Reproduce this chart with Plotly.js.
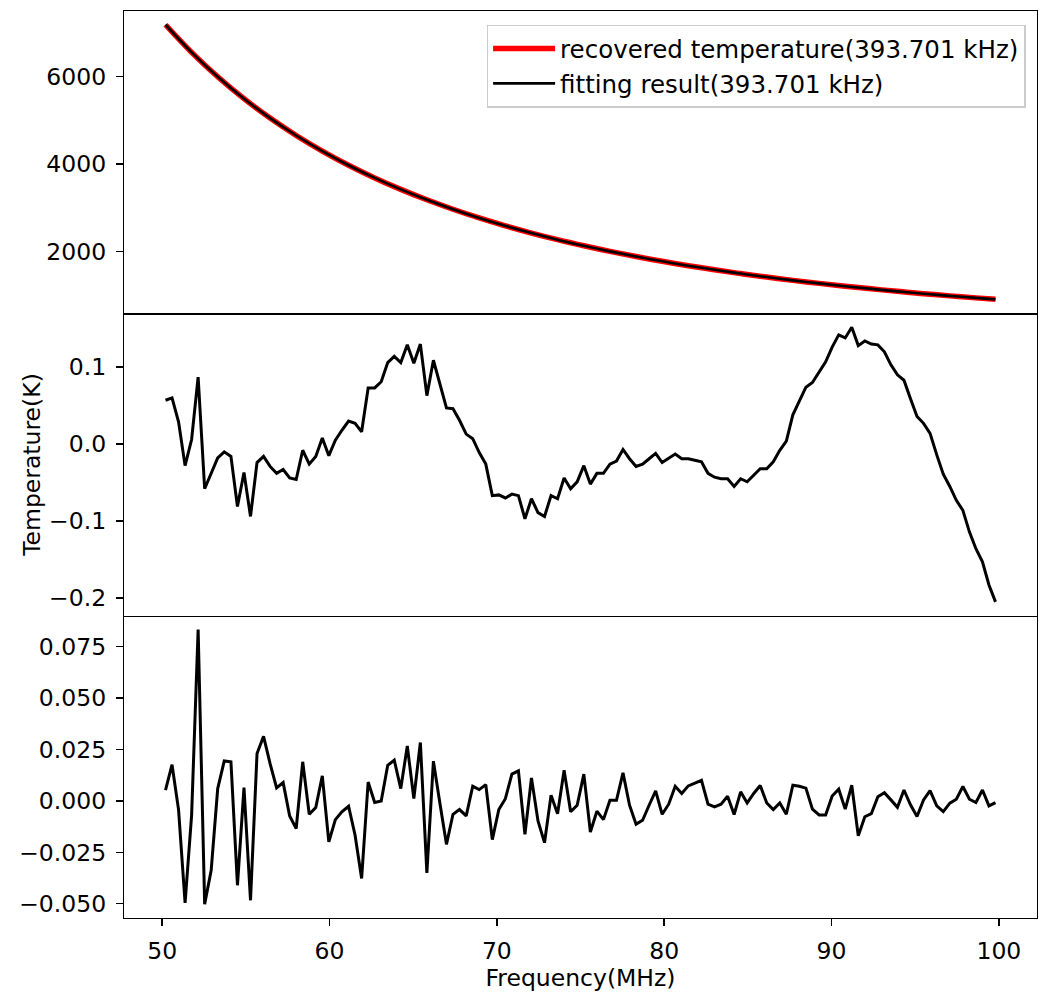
<!DOCTYPE html>
<html>
<head>
<meta charset="utf-8">
<script src="https://cdn.plot.ly/plotly-3.0.1.min.js"></script>
<style>
html, body { margin: 0; padding: 0; background: #ffffff; }
#chart { width: 1046px; height: 992px; }
</style>
</head>
<body>
<div id="chart"></div>
<script>
// Channel frequencies (MHz)
const freq = [
50.20,50.59,50.98,51.37,51.76,52.15,52.54,52.93,53.32,53.71,54.11,54.50,54.89,55.28,55.67,56.06,
56.45,56.84,57.23,57.62,58.01,58.40,58.79,59.18,59.57,59.96,60.35,60.74,61.14,61.53,61.92,62.31,
62.70,63.09,63.48,63.87,64.26,64.65,65.04,65.43,65.82,66.21,66.60,66.99,67.38,67.77,68.17,68.56,
68.95,69.34,69.73,70.12,70.51,70.90,71.29,71.68,72.07,72.46,72.85,73.24,73.63,74.02,74.41,74.80,
75.20,75.59,75.98,76.37,76.76,77.15,77.54,77.93,78.32,78.71,79.10,79.49,79.88,80.27,80.66,81.05,
81.44,81.83,82.23,82.62,83.01,83.40,83.79,84.18,84.57,84.96,85.35,85.74,86.13,86.52,86.91,87.30,
87.69,88.08,88.47,88.86,89.26,89.65,90.04,90.43,90.82,91.21,91.60,91.99,92.38,92.77,93.16,93.55,
93.94,94.33,94.72,95.11,95.50,95.89,96.29,96.68,97.07,97.46,97.85,98.24,98.63,99.02,99.41,99.80];

// Top panel: recovered temperature / fitting result (K), read at every 4th channel
const topFreq = [50.20,51.76,53.32,54.89,56.45,58.01,59.57,61.14,62.70,64.26,65.82,67.38,68.95,70.51,
72.07,73.63,75.20,76.76,78.32,79.88,81.44,83.01,84.57,86.13,87.69,89.26,90.82,92.38,93.94,95.50,97.07,98.63,99.80];
const topTemp = [7182,6552,5994,5494,5051,4654,4298,3975,3686,3424,3186,2970,2772,2592,
2427,2276,2137,2009,1891,1783,1682,1589,1502,1422,1347,1278,1213,1153,1096,1043,993,947,914];

// Middle panel: residual (K)
const midResidual = [
0.057,0.060,0.029,-0.028,0.006,0.087,-0.058,-0.038,-0.018,-0.010,-0.016,-0.081,-0.037,-0.094,-0.024,-0.016,
-0.029,-0.038,-0.033,-0.044,-0.046,-0.008,-0.026,-0.016,0.008,-0.015,0.005,0.018,0.030,0.027,0.016,0.073,
0.073,0.081,0.106,0.114,0.106,0.129,0.105,0.130,0.063,0.109,0.079,0.047,0.046,0.031,0.013,0.007,
-0.011,-0.026,-0.067,-0.066,-0.070,-0.065,-0.067,-0.097,-0.071,-0.089,-0.094,-0.067,-0.071,-0.044,-0.058,-0.049,
-0.028,-0.052,-0.038,-0.038,-0.026,-0.022,-0.007,-0.019,-0.029,-0.026,-0.019,-0.012,-0.024,-0.019,-0.013,-0.019,
-0.019,-0.021,-0.023,-0.038,-0.043,-0.045,-0.045,-0.055,-0.045,-0.049,-0.040,-0.032,-0.032,-0.023,-0.008,0.004,
0.038,0.057,0.074,0.080,0.093,0.107,0.126,0.142,0.138,0.152,0.128,0.134,0.130,0.129,0.120,0.103,
0.090,0.083,0.059,0.036,0.027,0.014,-0.014,-0.039,-0.055,-0.073,-0.086,-0.114,-0.136,-0.153,-0.183,-0.205];

// Bottom panel: noise residual (K)
const lowResidual = [
0.0052,0.0176,-0.0042,-0.0496,-0.0070,0.0833,-0.0502,-0.0337,0.0060,0.0194,0.0190,-0.0410,0.0065,-0.0483,0.0230,0.0314,
0.0181,0.0063,0.0089,-0.0073,-0.0134,0.0190,-0.0065,-0.0032,0.0122,-0.0199,-0.0091,-0.0053,-0.0026,-0.0167,-0.0377,0.0092,
-0.0008,0.0000,0.0173,0.0198,0.0060,0.0267,0.0011,0.0284,-0.0350,0.0193,-0.0013,-0.0211,-0.0065,-0.0042,-0.0073,0.0071,
0.0055,0.0079,-0.0188,-0.0042,0.0011,0.0130,0.0146,-0.0162,0.0112,-0.0097,-0.0203,0.0028,-0.0062,0.0149,-0.0053,-0.0021,
0.0130,-0.0151,-0.0050,-0.0091,0.0003,0.0003,0.0136,-0.0021,-0.0113,-0.0094,-0.0021,0.0049,-0.0065,-0.0016,0.0071,0.0036,
0.0073,0.0087,0.0100,-0.0016,-0.0029,-0.0016,0.0023,-0.0066,0.0044,-0.0010,0.0036,0.0075,-0.0010,-0.0042,-0.0010,-0.0065,
0.0076,0.0071,0.0062,-0.0040,-0.0068,-0.0068,0.0024,0.0057,-0.0040,0.0076,-0.0170,-0.0077,-0.0062,0.0020,0.0040,0.0005,
-0.0031,0.0053,-0.0019,-0.0076,0.0005,0.0050,-0.0024,-0.0052,-0.0011,0.0008,0.0070,0.0008,-0.0008,0.0053,-0.0024,-0.0008];

const xTicks = [50, 60, 70, 80, 90, 100];
const topTicks = [2000, 4000, 6000];
const midTicks = [-0.2, -0.1, 0.0, 0.1];
const lowTicks = [-0.050, -0.025, 0.000, 0.025, 0.050, 0.075];
const legendNames = ['recovered temperature(393.701 kHz)', 'fitting result(393.701 kHz)'];

const FONT = 'DejaVu Sans, Verdana, sans-serif';
const FS = 23.5;

const traces = [
  { x: topFreq, y: topTemp, type: 'scatter', mode: 'lines', name: legendNames[0],
    line: { color: '#ff0000', width: 5.5, shape: 'spline' }, xaxis: 'x3', yaxis: 'y' },
  { x: topFreq, y: topTemp, type: 'scatter', mode: 'lines', name: legendNames[1],
    line: { color: '#000000', width: 2.6, shape: 'spline' }, xaxis: 'x3', yaxis: 'y' },
  { x: freq, y: midResidual, type: 'scatter', mode: 'lines', showlegend: false,
    line: { color: '#000000', width: 3 }, xaxis: 'x2', yaxis: 'y2' },
  { x: freq, y: lowResidual, type: 'scatter', mode: 'lines', showlegend: false,
    line: { color: '#000000', width: 3 }, xaxis: 'x', yaxis: 'y3' }
];

const axCommon = {
  showgrid: false, zeroline: false, showline: true, mirror: true,
  linecolor: '#000000', linewidth: 1.2,
  ticks: 'outside', ticklen: 7, tickwidth: 1.4, tickcolor: '#000000',
  tickfont: { family: FONT, size: FS, color: '#000000' },
  ticklabelstandoff: 5
};
const xr = [47.72, 102.28];

const layout = {
  width: 1046, height: 992,
  margin: { l: 124, r: 9, t: 11, b: 74 },
  paper_bgcolor: '#ffffff', plot_bgcolor: '#ffffff',
  font: { family: FONT, size: FS, color: '#000000' },
  showlegend: true,
  legend: {
    x: 0.9875, xanchor: 'right', y: 0.985, yanchor: 'top',
    bgcolor: '#ffffff', bordercolor: '#cccccc', borderwidth: 1.5,
    font: { family: FONT, size: 24.5, color: '#000000' },
    itemwidth: 62
  },
  xaxis: Object.assign({}, axCommon, {
    domain: [0, 1], anchor: 'y3', range: xr, autorange: false, mirror: false,
    tickmode: 'array', tickvals: xTicks, ticktext: xTicks.map(String),
    title: { text: 'Frequency(MHz)', font: { family: FONT, size: FS, color: '#000000' }, standoff: 1 }
  }),
  xaxis2: Object.assign({}, axCommon, {
    anchor: 'y2', matches: 'x', range: xr, ticks: '', showticklabels: false, mirror: false
  }),
  xaxis3: Object.assign({}, axCommon, {
    anchor: 'y', matches: 'x', range: xr, ticks: '', showticklabels: false, mirror: true
  }),
  yaxis: Object.assign({}, axCommon, {
    domain: [0.6667, 1], anchor: 'x3', range: [595, 7496], autorange: false,
    tickmode: 'array', tickvals: topTicks, ticktext: topTicks.map(String)
  }),
  yaxis2: Object.assign({}, axCommon, {
    domain: [0.3333, 0.6667], anchor: 'x2', range: [-0.223, 0.170], autorange: false,
    tickmode: 'array', tickvals: midTicks, tickformat: '.1f',
    title: { text: 'Temperature(K)', font: { family: FONT, size: FS, color: '#000000' }, standoff: 1 }
  }),
  yaxis3: Object.assign({}, axCommon, {
    domain: [0, 0.3333], anchor: 'x', range: [-0.0569, 0.0900], autorange: false,
    tickmode: 'array', tickvals: lowTicks, tickformat: '.3f'
  })
};

Plotly.newPlot('chart', traces, layout, { displayModeBar: false, staticPlot: true });
</script>
</body>
</html>
